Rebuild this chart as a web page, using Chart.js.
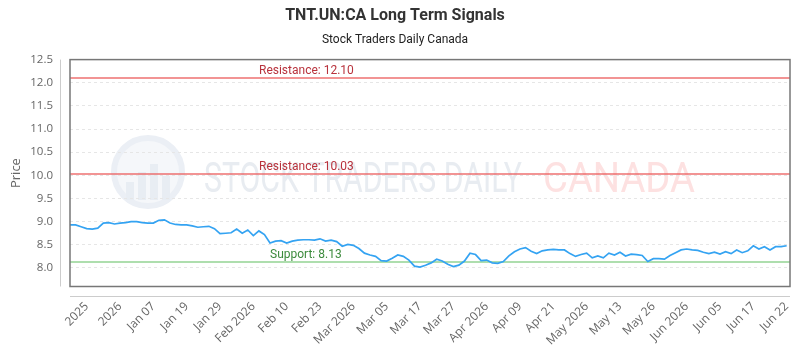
<!DOCTYPE html>
<html>
<head>
<meta charset="utf-8">
<script src="https://cdn.jsdelivr.net/npm/chart.js@4.4.1/dist/chart.umd.min.js"></script>
<style>
  html, body { margin: 0; padding: 0; background: #fff; }
  #wrap { width: 800px; height: 350px; }
</style>
</head>
<body>
<div id="wrap"><canvas id="signals"></canvas></div>
<script>
// daily closes
const prices = [
  8.93, 8.93, 8.89, 8.85, 8.84, 8.86, 8.97, 8.98, 8.95, 8.97,
  8.98, 9.00, 9.00, 8.98, 8.97, 8.97, 9.03, 9.04, 8.97, 8.94,
  8.93, 8.93, 8.91, 8.88, 8.89, 8.90, 8.85, 8.74, 8.75, 8.76,
  8.84, 8.75, 8.82, 8.70, 8.80, 8.72, 8.54, 8.58, 8.59, 8.54,
  8.58, 8.60, 8.61, 8.61, 8.60, 8.63, 8.58, 8.60, 8.57, 8.47,
  8.51, 8.49, 8.42, 8.32, 8.28, 8.25, 8.16, 8.15, 8.21, 8.28,
  8.25, 8.17, 8.04, 8.02, 8.06, 8.11, 8.19, 8.15, 8.08, 8.03,
  8.06, 8.15, 8.32, 8.29, 8.16, 8.17, 8.11, 8.10, 8.14, 8.26,
  8.35, 8.41, 8.44, 8.36, 8.31, 8.37, 8.39, 8.40, 8.39, 8.39,
  8.31, 8.25, 8.29, 8.32, 8.22, 8.26, 8.22, 8.32, 8.28, 8.34,
  8.26, 8.30, 8.29, 8.27, 8.14, 8.20, 8.20, 8.19, 8.27, 8.33,
  8.39, 8.41, 8.39, 8.38, 8.34, 8.31, 8.34, 8.30, 8.35, 8.31,
  8.39, 8.33, 8.37, 8.48, 8.41, 8.46, 8.39, 8.46, 8.46, 8.48
];

const tickPos = [3, 9, 15, 21, 27, 33, 39, 45, 51, 57, 63, 69, 75, 81, 87, 93, 99, 105, 111, 117, 123, 129];
const tickLabels = ['2025', '2026', 'Jan 07', 'Jan 19', 'Jan 29', 'Feb 2026', 'Feb 10', 'Feb 23',
  'Mar 2026', 'Mar 05', 'Mar 17', 'Mar 27', 'Apr 2026', 'Apr 09', 'Apr 21', 'May 2026',
  'May 13', 'May 26', 'Jun 2026', 'Jun 05', 'Jun 17', 'Jun 22'];
const yTicks = [8.0, 8.5, 9.0, 9.5, 10.0, 10.5, 11.0, 11.5, 12.0, 12.5];

const levels = [12.10, 10.03, 8.13];
const levelNames = ['Resistance', 'Resistance', 'Support'];

const points = prices.map((p, i) => ({ x: i, y: p }));

// frame, offset axis lines, watermark, signal lines
const decor = {
  id: 'decor',
  beforeDraw(chart) {
    const { ctx } = chart;
    ctx.save();
    ctx.fillStyle = '#fff';
    ctx.fillRect(0, 0, chart.width, chart.height);

    // watermark
    ctx.strokeStyle = '#ebeff5';
    ctx.fillStyle = '#f5f7fa';
    ctx.lineWidth = 6;
    ctx.beginPath();
    ctx.arc(148, 172, 34, 0, Math.PI * 2);
    ctx.fill();
    ctx.stroke();
    ctx.fillStyle = '#e8edf3';
    [[126, 182, 8, 18], [138, 172, 8, 28], [150, 164, 8, 36], [162, 176, 8, 24]].forEach(r => ctx.fillRect(r[0], r[1], r[2], r[3]));

    ctx.font = '42px Roboto';
    ctx.textBaseline = 'alphabetic';
    const drawFit = (txt, x0, x1, col) => {
      const w = ctx.measureText(txt).width;
      ctx.save();
      ctx.translate(x0, 192);
      ctx.scale((x1 - x0) / w, 1);
      ctx.fillStyle = col;
      ctx.fillText(txt, 0, 0);
      ctx.restore();
    };
    drawFit('STOCK TRADERS DAILY', 204, 522, '#e8ecf1');
    drawFit('CANADA', 543, 695, '#fde1e1');
    ctx.restore();
  },
  beforeDatasetsDraw(chart) {
    const { ctx, chartArea: a, scales } = chart;
    ctx.save();
    levels.forEach((lv, i) => {
      const y = scales.y.getPixelForValue(lv);
      const sup = levelNames[i] === 'Support';
      ctx.strokeStyle = sup ? 'rgba(120,200,120,0.6)' : 'rgba(235,90,90,0.65)';
      ctx.lineWidth = 2;
      ctx.beginPath();
      ctx.moveTo(a.left, y);
      ctx.lineTo(a.right, y);
      ctx.stroke();
      ctx.font = '12px Roboto';
      ctx.fillStyle = sup ? '#3d8b3d' : '#b8323c';
      ctx.textAlign = 'left';
      ctx.textBaseline = 'alphabetic';
      ctx.fillText(levelNames[i] + ': ' + lv.toFixed(2), a.left + (sup ? 200 : 189), y - 4);
    });
    ctx.restore();
  },
  afterDraw(chart) {
    const { ctx, chartArea: a } = chart;
    ctx.save();
    ctx.strokeStyle = '#777';
    ctx.lineWidth = 1.5;
    ctx.strokeRect(a.left, a.top, a.right - a.left, a.bottom - a.top);
    ctx.strokeStyle = '#ccc';
    ctx.lineWidth = 1;
    ctx.beginPath();
    ctx.moveTo(a.left - 9.5, a.top);
    ctx.lineTo(a.left - 9.5, a.bottom);
    ctx.moveTo(a.left, a.bottom + 10);
    ctx.lineTo(a.right, a.bottom + 10);
    ctx.stroke();
    ctx.restore();
  }
};

new Chart(document.getElementById('signals'), {
  type: 'line',
  data: {
    datasets: [{
      label: 'TNT.UN:CA',
      data: points,
      borderColor: '#34a3f2',
      borderWidth: 1.7,
      pointRadius: 0,
      tension: 0
    }]
  },
  options: {
    responsive: true,
    maintainAspectRatio: false,
    animation: false,
    layout: { padding: { left: 0, right: 10, bottom: 0, top: 0 } },
    plugins: {
      legend: { display: false },
      tooltip: { enabled: false },
      title: {
        display: true,
        text: 'TNT.UN:CA Long Term Signals',
        color: '#333',
        font: { family: 'Roboto', size: 16, weight: 'bold' },
        padding: { top: 6, bottom: 8 }
      },
      subtitle: {
        display: true,
        text: 'Stock Traders Daily Canada',
        color: '#222',
        font: { family: 'Roboto', size: 12 },
        padding: { top: 0, bottom: 12 }
      }
    },
    scales: {
      x: {
        type: 'linear',
        min: 0,
        max: 129.6,
        afterBuildTicks: s => { s.ticks = tickPos.map(v => ({ value: v })); },
        afterFit: s => { s.height = 63.5; s.paddingLeft = 0; s.paddingRight = 0; },
        ticks: {
          autoSkip: false,
          minRotation: 45,
          maxRotation: 45,
          padding: 13,
          color: '#666',
          font: { family: 'Open Sans', size: 12 },
          callback: v => tickLabels[tickPos.indexOf(v)]
        },
        grid: { display: false, drawTicks: false },
        border: { display: false }
      },
      y: {
        min: 7.6,
        max: 12.5,
        afterBuildTicks: s => { s.ticks = yTicks.map(v => ({ value: v })); },
        afterFit: s => { s.width = 70; s.paddingTop = 0; s.paddingBottom = 0; },
        ticks: {
          padding: 17,
          color: '#666',
          font: { family: 'Open Sans', size: 11.5 },
          callback: v => v.toFixed(1)
        },
        title: {
          display: true,
          text: 'Price',
          color: '#666',
          font: { family: 'Open Sans', size: 13 },
          padding: { top: 8, bottom: 4 }
        },
        grid: { color: '#e6e6e6', drawTicks: false },
        border: { display: false, dash: [3, 3] }
      }
    }
  },
  plugins: [decor]
});
</script>
</body>
</html>
